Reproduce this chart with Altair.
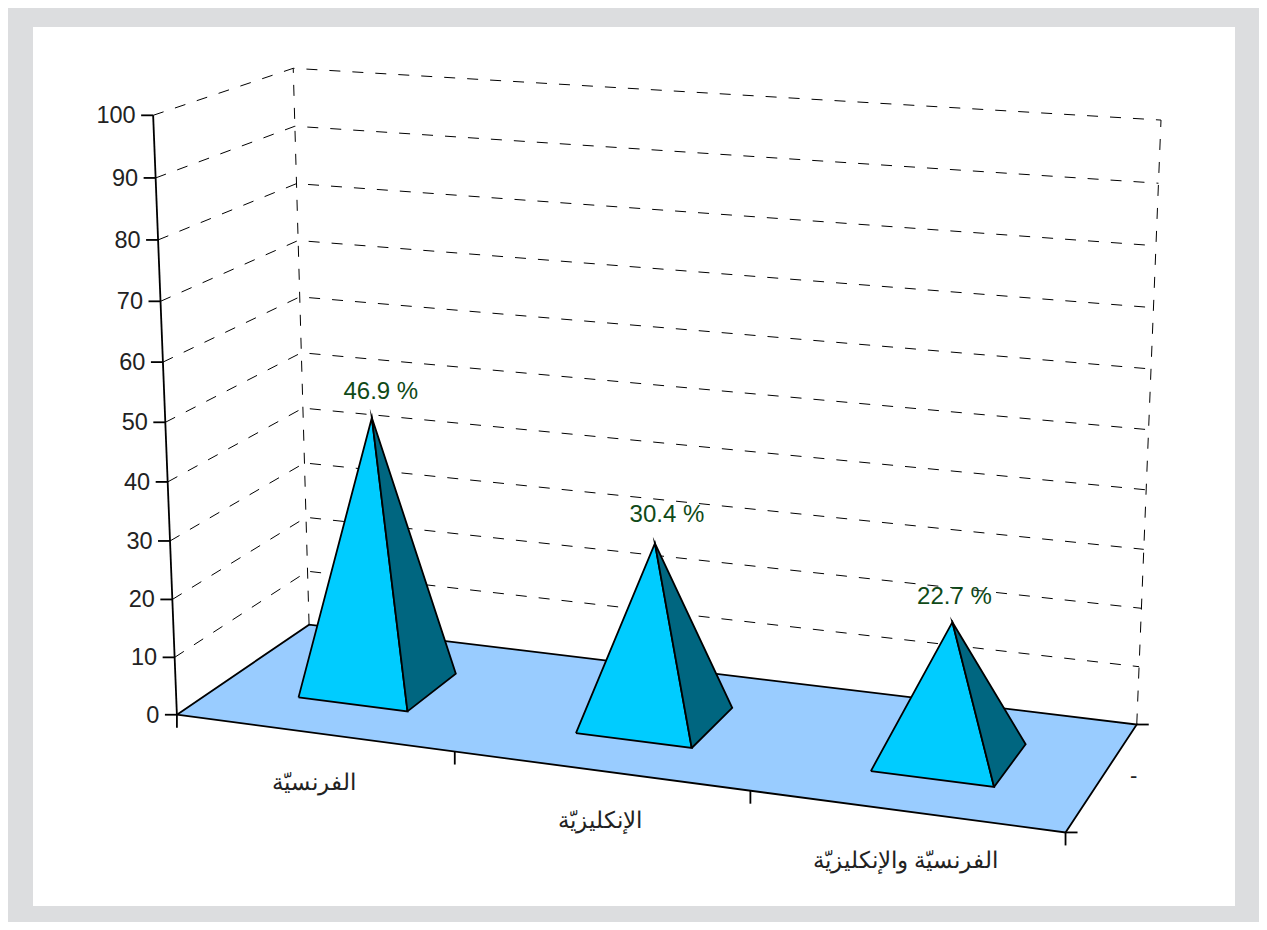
import numpy as np
import pandas as pd
import altair as alt

# ---- chart content ----
categories = ["الفرنسيّة", "الإنكليزيّة", "الفرنسيّة والإنكليزيّة"]
values = [46.9, 30.4, 22.7]
y_ticks = [0, 10, 20, 30, 40, 50, 60, 70, 80, 90, 100]
series_name = "-"

# ---- camera: how the box (category, depth, value) lies on the page ----
world_refs = [(0,0,0),(1,0,0),(2,0,0),(3,0,0),(0,1,0),(3,1,0),(0,0,100),(0,1,100),(3,1,100),(0,0,50),(0,1,50),(3,1,50)]
page_refs = [(177,714),(455,755),(750,790),(1065,832),(309,624),(1137,724),(153,115),(293,69),(1161,120),(166,421),(301,353),(1149,430)]

A = []
b = []
for (u, d, v), (px, py) in zip(world_refs, page_refs):
    A.append([u, d, v, 1, 0, 0, 0, 0, -px*u, -px*d, -px*v])
    A.append([0, 0, 0, 0, u, d, v, 1, -py*u, -py*d, -py*v])
    b += [px, py]
M = np.linalg.lstsq(np.array(A, float), np.array(b, float), rcond=None)[0]
M = np.append(M, 1.0).reshape(3, 4)

def proj(u, d, v):
    p = M @ np.array([u, d, v, 1.0])
    return p[0] / p[2], p[1] / p[2]

W, H = 1251, 914
xs = alt.Scale(domain=[8, 8 + W], range=[0, W], nice=False, zero=False)
ys = alt.Scale(domain=[8, 8 + H], range=[0, H], nice=False, zero=False)
X = lambda f="x": alt.X(f"{f}:Q", scale=xs, axis=None)
Y = lambda f="y": alt.Y(f"{f}:Q", scale=ys, axis=None)

def path_frame(paths):
    rows = []
    for gid, pts in enumerate(paths):
        for k, p in enumerate(pts):
            x, y = proj(*p)
            rows.append({"g": gid, "k": k, "x": x, "y": y})
    return pd.DataFrame(rows)

def polygon(pts, fill):
    df = path_frame([list(pts) + [pts[0]]])
    return alt.Chart(df).mark_line(fill=fill, stroke="#000000", strokeWidth=1.8,
                                   strokeJoin="miter", strokeMiterLimit=20).encode(
        x=X(), y=Y(), order="k:O")

# panel
panel = alt.Chart(pd.DataFrame({"x": [33], "x2": [1235], "y": [27], "y2": [906]})).mark_rect(
    color="#ffffff").encode(x=X(), x2="x2:Q", y=Y(), y2="y2:Q")

# dashed walls
grid_paths = []
for v in y_ticks[1:]:
    grid_paths.append([(0, 0, v), (0, 1, v), (3, 1, v)])
grid_paths.append([(0, 1, 0), (0, 1, 100)])
grid_paths.append([(3, 1, 0), (3, 1, 100)])
grid = alt.Chart(path_frame(grid_paths)).mark_line(
    color="#000000", strokeWidth=1, strokeDash=[11, 12]).encode(
    x=X(), y=Y(), detail="g:N", order="k:O")

floor = polygon([(0, 0, 0), (3, 0, 0), (3, 1, 0), (0, 1, 0)], "#99CCFF")

# axes
def seg_frame(segs):
    rows = []
    for (x1, y1, x2, y2) in segs:
        rows.append({"x": x1, "y": y1, "x2": x2, "y2": y2})
    return pd.DataFrame(rows)

segs = []
segs.append((*proj(0, 0, 0), *proj(0, 0, 100)))
tick_rows = []
for v in y_ticks:
    px, py = proj(0, 0, v)
    segs.append((px - 12, py, px, py))
    tick_rows.append({"x": px - 17.5, "y": py + 1, "t": str(v)})
for u in range(4):
    px, py = proj(u, 0, 0)
    segs.append((px, py, px, py + 13))
for d in [0, 1]:
    px, py = proj(3, d, 0)
    segs.append((px, py, px + 12, py))
axes = alt.Chart(seg_frame(segs)).mark_rule(color="#000000", strokeWidth=1.8).encode(
    x=X(), x2="x2:Q", y=Y(), y2="y2:Q")

tick_labels = alt.Chart(pd.DataFrame(tick_rows)).mark_text(
    align="right", baseline="middle", font="Liberation Sans", fontSize=23.5, color="#222222").encode(
    x=X(), y=Y(), text="t:N")

# pyramids
half_u, half_d = 0.2, 0.2015
pyr = []
label_rows = []
label_dx = [9, 12, 2]
label_dy = [-26, -28, -25]
for i, val in enumerate(values):
    uc, dc = i + 0.503, 0.4935
    apex = (uc, dc, val)
    fl = (uc - half_u, dc - half_d, 0)
    fr = (uc + half_u, dc - half_d, 0)
    br = (uc + half_u, dc + half_d, 0)
    pyr.append(polygon([fl, fr, apex], "#00CCFF"))
    pyr.append(polygon([fr, br, apex], "#006680"))
    ax, ay = proj(*apex)
    label_rows.append({"x": ax + label_dx[i], "y": ay + label_dy[i], "t": f"{val} %"})

value_labels = alt.Chart(pd.DataFrame(label_rows)).mark_text(
    align="center", baseline="middle", font="Liberation Sans", fontSize=24, color="#0f4a18").encode(
    x=X(), y=Y(), text="t:N")

cat_rows = []
for i, c in enumerate(categories):
    px, py = proj(i + 0.5, 0, 0)
    cat_rows.append({"x": px, "y": py + 50, "t": c})
cat_labels = alt.Chart(pd.DataFrame(cat_rows)).mark_text(
    align="center", baseline="middle", font="Liberation Sans", fontSize=23, color="#222222").encode(
    x=X(), y=Y(), text="t:N")

px, py = proj(3, 0.5, 0)
series_label = alt.Chart(pd.DataFrame([{"x": px + 31, "y": py, "t": series_name}])).mark_text(
    align="center", baseline="middle", font="Liberation Sans", fontSize=22, color="#222222").encode(
    x=X(), y=Y(), text="t:N")

chart = alt.layer(panel, grid, floor, axes, *pyr, tick_labels, value_labels, cat_labels, series_label).properties(
    width=W, height=H, background="#DCDDDF", padding=0,
    autosize=alt.AutoSizeParams(type="none")
).configure_view(stroke=None)

chart.save("out.html", embed_options={"renderer": "svg", "actions": False})
